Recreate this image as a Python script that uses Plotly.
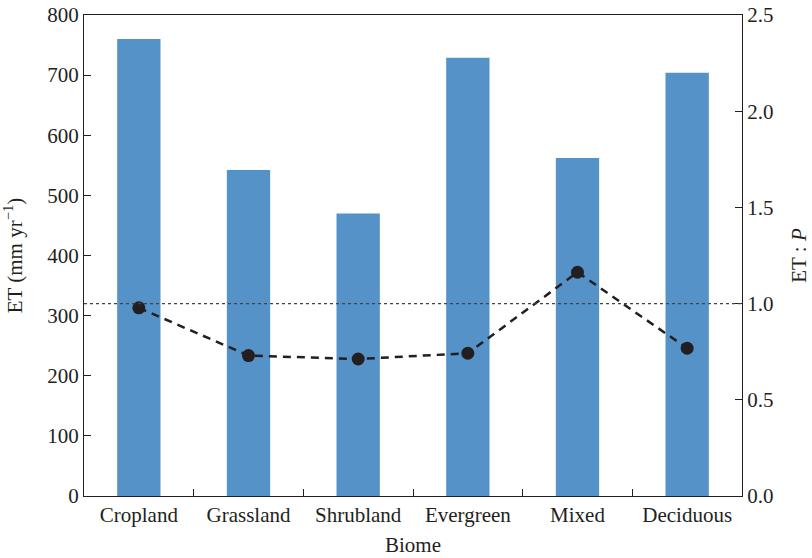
import plotly.graph_objects as go

# Biome categories and values
biomes = ["Cropland", "Grassland", "Shrubland", "Evergreen", "Mixed", "Deciduous"]
et_mm = [760, 542, 470, 729, 562, 704]          # ET (mm yr^-1), left axis bars
et_p = [0.978, 0.730, 0.712, 0.742, 1.163, 0.768]  # ET : P ratio, right axis

left_ticks = [0, 100, 200, 300, 400, 500, 600, 700, 800]
right_ticks = [0.0, 0.5, 1.0, 1.5, 2.0, 2.5]

FONT = "Liberation Serif"
FS = 21
BAR_COLOR = "#5592c8"
INK = "#231f20"

fig = go.Figure()

fig.add_trace(go.Bar(
    x=biomes, y=et_mm, width=0.395,
    marker=dict(color=BAR_COLOR, line=dict(width=0)),
    yaxis="y", showlegend=False,
))

fig.add_trace(go.Scatter(
    x=biomes, y=et_p, yaxis="y2", mode="lines+markers",
    line=dict(color=INK, width=2.5, dash="8px,6px"),
    marker=dict(color=INK, size=13),
    showlegend=False,
))

# Reference line at ET : P = 1
fig.add_shape(
    type="line", xref="paper", x0=0, x1=1, yref="y2", y0=1.0, y1=1.0,
    line=dict(color="#444444", width=1.3, dash="3px,3px"),
)

axis_common = dict(
    showline=True, linecolor=INK, linewidth=1.3,
    ticks="inside", ticklen=7, tickwidth=1.2, tickcolor=INK,
    showgrid=False, zeroline=False, automargin=False,
    tickfont=dict(family=FONT, size=FS, color=INK),
)

fig.update_layout(
    width=812, height=558,
    margin=dict(l=84, r=70, t=15, b=62),
    paper_bgcolor="white", plot_bgcolor="white",
    font=dict(family=FONT, size=FS, color=INK),
    xaxis=dict(
        **axis_common,
        range=[-0.5, 5.5], tickson="boundaries", mirror=True,
        title=dict(text="Biome", font=dict(family=FONT, size=FS), standoff=10),
    ),
    yaxis=dict(
        **axis_common,
        range=[0, 800], tickvals=left_ticks,
        title=dict(text="ET (mm yr<sup>−1</sup>)", font=dict(family=FONT, size=FS), standoff=18),
    ),
    yaxis2=dict(
        **axis_common,
        overlaying="y", side="right",
        range=[0, 2.5], tickvals=right_ticks, tickformat=".1f",
        title=dict(text="ET : <i>P</i>", font=dict(family=FONT, size=FS), standoff=18),
    ),
)

fig.write_html("out.html")
